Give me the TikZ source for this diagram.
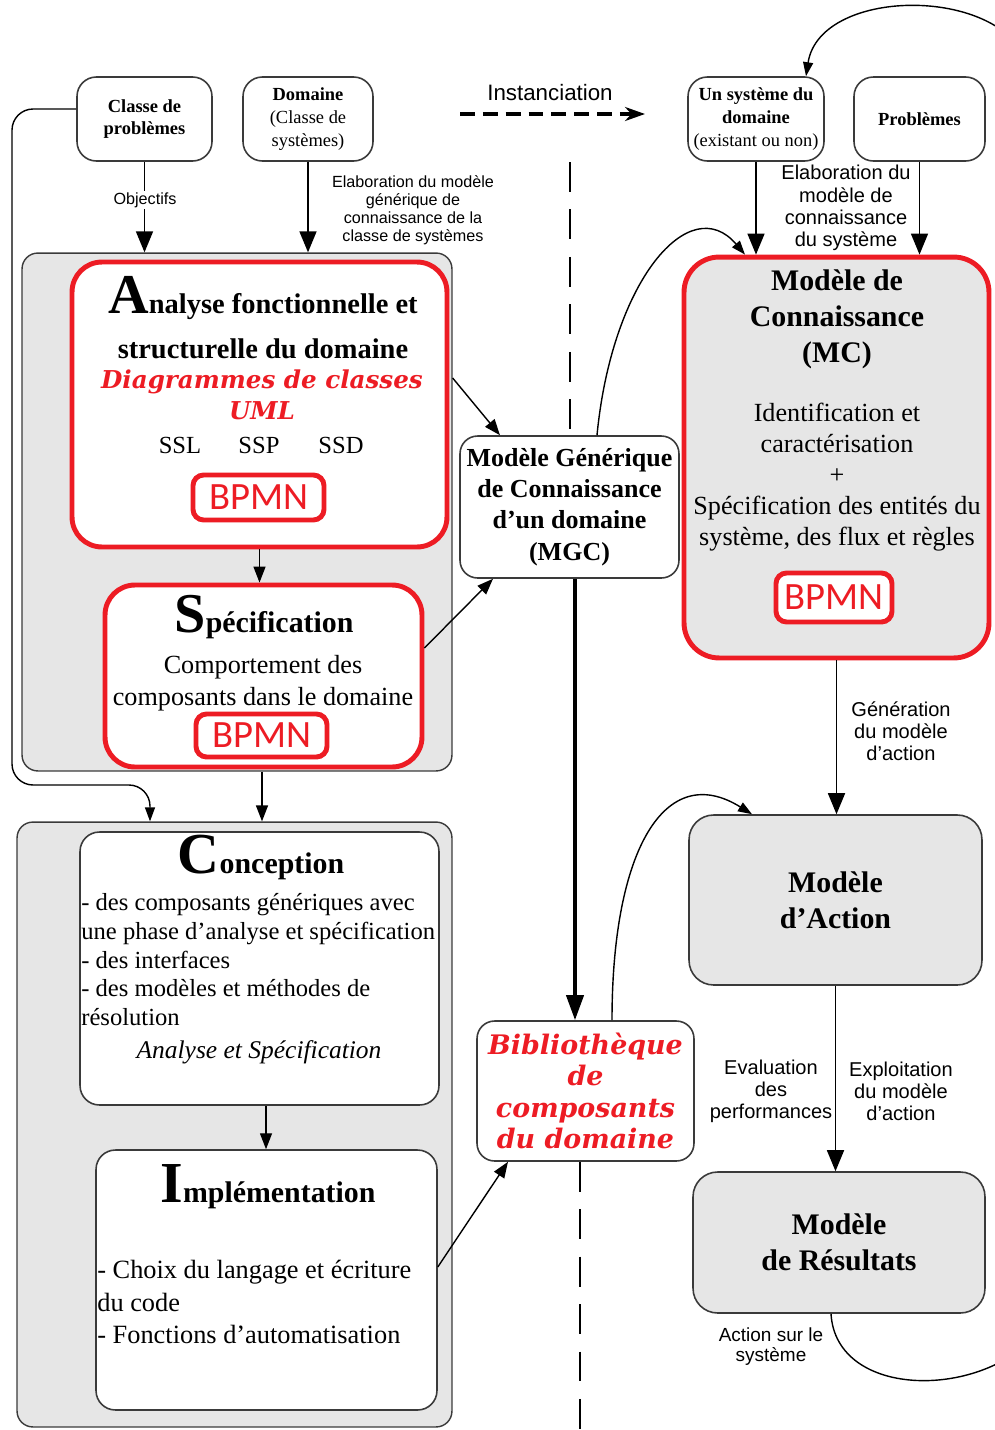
\documentclass[tikz,border=0pt]{standalone}
\usepackage{fontspec}
\setmainfont{Liberation Serif}
\setsansfont{Liberation Sans}
\newfontfamily\bpmnfont{Carlito}
\newfontfamily\heavyfont{DejaVu Serif}
\usetikzlibrary{arrows.meta}
\definecolor{bpmnred}{HTML}{ED1C24}
\definecolor{boxgray}{HTML}{E6E6E6}
\definecolor{edgegray}{HTML}{3A3A3A}
\tikzset{
  tbox/.style={draw=edgegray, line width=0.9pt, rounded corners=11pt, fill=white, align=center, inner sep=0pt, font=\bfseries\fontsize{10.5}{13}\selectfont},
  grp/.style={draw=edgegray, line width=0.8pt, rounded corners=9pt, fill=boxgray, inner sep=0pt},
  wbox/.style={draw=edgegray, line width=0.9pt, rounded corners=11pt, fill=white, inner sep=0pt},
  gbox/.style={draw=edgegray, line width=0.9pt, rounded corners=14pt, fill=boxgray, inner sep=0pt},
  redbox/.style={draw=bpmnred, line width=2.8pt, rounded corners=17pt, fill=white, inner sep=0pt},
  bpmnbox/.style={draw=bpmnred, line width=2.8pt, rounded corners=6pt, fill=white, inner sep=0pt, text=bpmnred, font=\bpmnfont\fontsize{22}{22}\selectfont},
  ttl/.style={align=center, inner sep=0pt, font=\bfseries\fontsize{17}{20.4}\selectfont},
  txt/.style={align=center, inner sep=0pt, font=\fontsize{14}{17.6}\selectfont},
  heavy/.style={align=center, inner sep=0pt, text=bpmnred, font=\heavyfont\bfseries\itshape\fontsize{14}{18}\selectfont},
  lbl/.style={align=center, inner sep=1pt, font=\sffamily\fontsize{9.2}{10.2}\selectfont},
  lblb/.style={align=center, inner sep=1pt, font=\sffamily\fontsize{11.4}{12.6}\selectfont},
  arr/.style={-{Triangle[length=4.2mm,width=3.4mm]}, line width=0.9pt},
  arrs/.style={-{Triangle[length=3.2mm,width=2.4mm]}, line width=0.8pt},
  arrc/.style={-{Triangle[length=2.8mm,width=2mm]}, line width=0.8pt},
  sep/.style={line width=0.8pt, dash pattern=on 17pt off 10pt}
}
\begin{document}
\begin{tikzpicture}[x=0.02cm,y=-0.02cm]
\useasboundingbox (0,0) rectangle (994,1430);

% boites du haut
\node[tbox, minimum width=2.7cm, minimum height=1.68cm] (cp) at (144.5,119) {Classe de\\problèmes};
\node[tbox, minimum width=2.6cm, minimum height=1.68cm] (dom) at (308,119) {Domaine\\{\mdseries(Classe de}\\{\mdseries systèmes)}};
\node[tbox, minimum width=2.72cm, minimum height=1.68cm] (sys) at (756,119) {Un système du\\domaine\\{\mdseries(existant ou non)}};
\node[tbox, minimum width=2.62cm, minimum height=1.68cm] (prob) at (919.5,119) {Problèmes};

\node[lblb, font=\sffamily\fontsize{12.7}{14}\selectfont] (inst) at (550,93) {Instanciation};
\coordinate (instA) at (460,114);
\coordinate (instB) at (645,114);
\draw[line width=2.6pt, dash pattern=on 8.5pt off 4.5pt, -{Stealth[length=4mm,width=2.8mm]}] (instA) -- (instB);

% partie gauche
\node[grp, minimum width=8.6cm, minimum height=10.36cm] (grp1) at (237,512) {};
\node[grp, minimum width=8.7cm, minimum height=12.1cm] (grp2) at (234.5,1124.5) {};

\node[redbox, minimum width=7.5cm, minimum height=5.7cm] (ana) at (259.5,404.5) {};
\node[ttl, font=\bfseries\fontsize{16.2}{25.5}\selectfont] (anat) at (263,318) {{\fontsize{32}{32}\selectfont A}nalyse fonctionnelle et\\structurelle du domaine};
\node[heavy] (uml) at (262,395) {Diagrammes de classes\\UML};
\node[txt] (ssl) at (180,445) {SSL};
\node[txt] (ssp) at (259,445) {SSP};
\node[txt] (ssd) at (341,445) {SSD};
\node[bpmnbox, minimum width=2.62cm, minimum height=0.9cm] (bpmn1) at (258.5,497.5) {BPMN};

\node[redbox, minimum width=6.34cm, minimum height=3.64cm] (spec) at (263.5,676) {};
\node[ttl] (spect) at (264,617) {{\fontsize{32}{32}\selectfont S}pécification};
\node[txt, font=\fontsize{14.9}{18.1}\selectfont] (spectx) at (263,683) {Comportement des\\composants dans le domaine};
\node[bpmnbox, minimum width=2.62cm, minimum height=0.86cm] (bpmn2) at (261.5,735.5) {BPMN};

\node[wbox, minimum width=7.18cm, minimum height=5.46cm] (conc) at (259.5,968.5) {};
\node[ttl] (conct) at (261,857) {{\fontsize{33}{33}\selectfont C}onception};
\node[txt, align=left, anchor=north west, font=\fontsize{14}{16.4}\selectfont] (conctx) at (81,893) {- des composants génériques avec\\une phase d’analyse et spécification\\- des interfaces\\- des modèles et méthodes de\\résolution};
\node[txt, font=\itshape\fontsize{14.5}{16.4}\selectfont] (concit) at (259,1052) {Analyse et Spécification};

\node[wbox, minimum width=6.82cm, minimum height=5.2cm] (impl) at (266.5,1280) {};
\node[ttl] (implt) at (268,1187) {{\fontsize{33}{33}\selectfont I}mplémentation};
\node[txt, align=left, anchor=north west, font=\fontsize{15}{18.5}\selectfont] (impltx) at (97,1260) {- Choix du langage et écriture\\du code\\- Fonctions d’automatisation};

% milieu
\node[wbox, rounded corners=10pt, minimum width=4.38cm, minimum height=2.84cm, ttl, font=\bfseries\fontsize{14.8}{17.8}\selectfont] (mgc) at (569.5,507) {Modèle Générique\\de Connaissance\\d’un domaine\\(MGC)};
\node[wbox, rounded corners=10pt, minimum width=4.34cm, minimum height=2.8cm, heavy, font=\heavyfont\bfseries\itshape\fontsize{15.3}{17.9}\selectfont] (bib) at (585.5,1091) {Bibliothèque\\de\\composants\\du domaine};

% partie droite
\node[redbox, fill=boxgray, rounded corners=20pt, minimum width=6.1cm, minimum height=8.02cm] (mc) at (836.5,457.5) {};
\node[ttl] (mct) at (837,319) {Modèle de\\Connaissance\\(MC)};
\node[txt, font=\fontsize{14.9}{17.6}\selectfont] (mctx) at (837,477) {Identification et\\caractérisation\\+\\Spécification des entités du\\système, des flux et règles};
\node[bpmnbox, minimum width=2.32cm, minimum height=0.98cm] (bpmn3) at (834,597.5) {BPMN};

\node[gbox, minimum width=5.86cm, minimum height=3.4cm, ttl, font=\bfseries\fontsize{17}{20.4}\selectfont] (ma) at (835.5,900) {Modèle\\d’Action};
\node[gbox, minimum width=5.84cm, minimum height=2.82cm, ttl, font=\bfseries\fontsize{17}{20.4}\selectfont] (mr) at (839,1242.5) {Modèle\\de Résultats};

% fleches
\draw[arr] (cp.south) -- (cp.south |- grp1.north);
\node[lbl, fill=white] (objl) at (145,200) {Objectifs};
\draw[arr] (dom.south) -- (dom.south |- grp1.north);
\node[lbl] (elab1) at (413,210) {Elaboration du modèle\\générique de\\connaissance de la\\classe de systèmes};

\draw[arrs] (ana.south) -- (ana.south |- spec.north);
\draw[arrs] (grp1.east |- 0,378) -- (500,0 |- mgc.north);
\draw[arrs] (spec.east |- 0,648) -- (493,0 |- mgc.south);
\draw[arrs] (262,0 |- grp1.south) -- (262,0 |- grp2.north);
\draw[arrc, rounded corners=12pt] (cp.west |- 0,109) -- (12,109) -- (12,785) -- (150,785) -- (150,0 |- grp2.north);
\draw[arrs] (conc.south -| 266,0) -- (266,0 |- impl.north);
\draw[arrs] (impl.east |- 0,1267) -- (508,0 |- bib.south);

\coordinate (sepA) at (570,162);
\draw[sep] (sepA) -- (sepA |- mgc.north);
\coordinate (sepB) at (580,1430);
\draw[sep] (sepB |- bib.south) -- (sepB);
\draw[line width=2.2pt, -{Triangle[length=5mm,width=3.4mm]}] (575,0 |- mgc.south) -- (575,0 |- bib.north);

\draw[arrc] (597,0 |- mgc.north) .. controls (612,280) and (690,190) .. (745,0 |- mc.north);
\draw[arrc] (612,0 |- bib.north) .. controls (612,850) and (665,760) .. (752,0 |- ma.north);

\draw[arr] (sys.south) -- (sys.south |- mc.north);
\draw[arr] (prob.south) -- (prob.south |- mc.north);
\node[lblb] (elab2) at (846,208) {Elaboration du\\modèle de\\connaissance\\du système};

\draw[arr] (mc.south) -- (mc.south |- ma.north);
\node[lblb] (gen) at (901,731) {Génération\\du modèle\\d’action};
\draw[arr] (ma.south) -- (ma.south |- mr.north);
\node[lblb] (eval) at (771,1091) {Evaluation\\des\\performances};
\node[lblb] (expl) at (901,1091) {Exploitation\\du modèle\\d’action};

\coordinate (loopA) at (1040,1330);
\draw[line width=0.8pt] (831,0 |- mr.south) .. controls (836,1400) and (985,1400) .. (loopA);
\node[lbl, font=\sffamily\fontsize{10.8}{11.4}\selectfont] (act) at (771,1347) {Action sur le\\système};
\coordinate (loopB) at (1030,70);
\draw[arrc] (loopB) .. controls (1010,-15) and (820,-15) .. (806,0 |- sys.north);
\end{tikzpicture}
\end{document}
